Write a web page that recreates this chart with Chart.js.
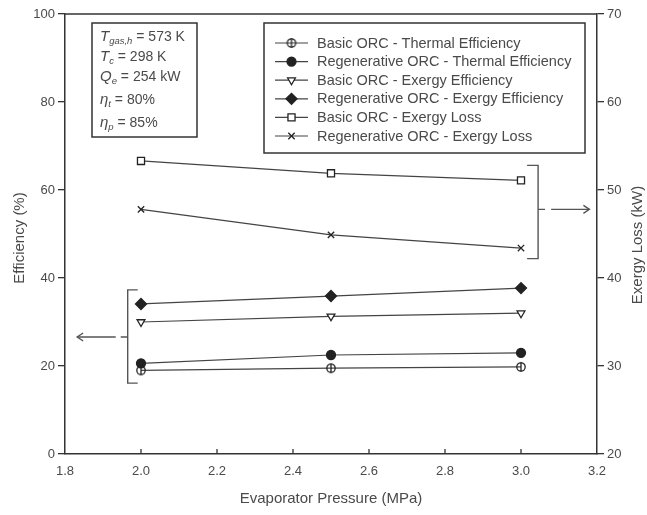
<!DOCTYPE html>
<html>
<head>
<meta charset="utf-8">
<script src="https://cdn.jsdelivr.net/npm/chart.js@4.4.1/dist/chart.umd.min.js"></script>
<style>
  html, body { margin: 0; padding: 0; background: #fff; }
  #wrap { width: 647px; height: 515px; }
</style>
</head>
<body>
<div id="wrap"><canvas id="orc" width="647" height="515"></canvas></div>
<script>
// evaporator pressure (MPa)
const pressures = [2.0, 2.5, 3.0];

// efficiencies (%) - left axis
const basicThermal = [19.0, 19.5, 19.8];
const regenThermal = [20.6, 22.5, 23.0];
const basicExergyEff = [30.0, 31.3, 32.0];
const regenExergyEff = [34.1, 35.9, 37.7];

// exergy loss (kW) - right axis
const basicExergyLoss = [53.3, 51.9, 51.1];
const regenExergyLoss = [47.8, 44.9, 43.4];

const seriesNames = [
  'Basic ORC - Thermal Efficiency',
  'Regenerative ORC - Thermal Efficiency',
  'Basic ORC - Exergy Efficiency',
  'Regenerative ORC - Exergy Efficiency',
  'Basic ORC - Exergy Loss',
  'Regenerative ORC - Exergy Loss'
];

const xTicks = [1.8, 2.0, 2.2, 2.4, 2.6, 2.8, 3.0, 3.2];
const effTicks = [0, 20, 40, 60, 80, 100];
const lossTicks = [20, 30, 40, 50, 60, 70];

// operating conditions shown in the small box
const conditions = [
  { sym: 'T', sub: 'gas,h', text: ' = 573 K' },
  { sym: 'T', sub: 'c', text: ' = 298 K' },
  { sym: 'Q', sub: 'e', text: ' = 254 kW' },
  { sym: 'η', sub: 't', text: ' = 80%' },
  { sym: 'η', sub: 'p', text: ' = 85%' }
];

const FONT = '"Liberation Sans", Arial, Helvetica, sans-serif';
const INK = '#222';
const LINE = '#444';
const TEXT = '#4a4a4a';

// open circle with a vertical bar
function circleBar() {
  const c = document.createElement('canvas');
  c.width = 12; c.height = 12;
  const g = c.getContext('2d');
  g.strokeStyle = INK;
  g.lineWidth = 1.3;
  g.beginPath();
  g.arc(6, 6, 4.2, 0, Math.PI * 2);
  g.stroke();
  g.beginPath();
  g.moveTo(6, 1.2);
  g.lineTo(6, 10.8);
  g.stroke();
  return c;
}

const pts = vals => pressures.map((p, i) => ({ x: p, y: vals[i] }));

function series(i, vals, axis, style) {
  return Object.assign({
    label: seriesNames[i],
    data: pts(vals),
    yAxisID: axis,
    borderColor: LINE,
    borderWidth: 1.2,
    pointBorderColor: INK,
    pointBorderWidth: 1.3,
    pointRadius: 4.5,
    pointHoverRadius: 4.5,
    tension: 0,
    fill: false
  }, style);
}

const datasets = [
  series(0, basicThermal, 'y', { pointStyle: circleBar(), pointBackgroundColor: INK }),
  series(1, regenThermal, 'y', { pointStyle: 'circle', pointBackgroundColor: INK, pointRadius: 4.5 }),
  series(2, basicExergyEff, 'y', { pointStyle: 'triangle', rotation: 180, pointBackgroundColor: '#fff', pointRadius: 4.5 }),
  series(3, regenExergyEff, 'y', { pointStyle: 'rectRot', pointBackgroundColor: INK, pointRadius: 5.5 }),
  series(4, basicExergyLoss, 'y1', { pointStyle: 'rect', pointBackgroundColor: '#fff', pointRadius: 5 }),
  series(5, regenExergyLoss, 'y1', { pointStyle: 'crossRot', pointBackgroundColor: INK, pointRadius: 4.5 })
];

function drawRuns(ctx, x, y, runs) {
  runs.forEach(r => {
    ctx.font = r.font;
    ctx.fillText(r.t, x, y + (r.dy || 0));
    x += ctx.measureText(r.t).width;
  });
}

const decorations = {
  id: 'decorations',
  afterDraw(chart) {
    const ctx = chart.ctx;
    const a = chart.chartArea;
    const xs = chart.scales.x, yl = chart.scales.y, yr = chart.scales.y1;
    ctx.save();

    // top frame line and inward x ticks
    ctx.strokeStyle = '#333';
    ctx.lineWidth = 1.5;
    ctx.beginPath();
    ctx.moveTo(a.left, a.top);
    ctx.lineTo(a.right, a.top);
    ctx.stroke();
    ctx.lineWidth = 1.3;
    xTicks.slice(1, -1).forEach(v => {
      const px = xs.getPixelForValue(v);
      ctx.beginPath();
      ctx.moveTo(px, a.bottom);
      ctx.lineTo(px, a.bottom - 5);
      ctx.stroke();
    });

    // axis titles
    ctx.fillStyle = TEXT;
    ctx.textAlign = 'center';
    ctx.textBaseline = 'middle';
    ctx.font = '15px ' + FONT;
    ctx.fillText('Evaporator Pressure (MPa)', (a.left + a.right) / 2, 499);
    ctx.save();
    ctx.translate(20, 238);
    ctx.rotate(-Math.PI / 2);
    ctx.fillText('Efficiency (%)', 0, 0);
    ctx.restore();
    ctx.save();
    ctx.translate(638, 245);
    ctx.rotate(-Math.PI / 2);
    ctx.fillText('Exergy Loss (kW)', 0, 0);
    ctx.restore();

    // conditions box
    ctx.strokeStyle = '#333';
    ctx.lineWidth = 1.5;
    ctx.strokeRect(92, 23, 105, 114);
    ctx.textAlign = 'left';
    ctx.textBaseline = 'alphabetic';
    const baselines = [41, 61, 81, 104, 127];
    conditions.forEach((c, i) => {
      drawRuns(ctx, 100, baselines[i], [
        { t: c.sym, font: 'italic 15px ' + FONT },
        { t: c.sub, font: 'italic 9.5px ' + FONT, dy: 3 },
        { t: c.text, font: '14px ' + FONT }
      ]);
    });

    // legend box
    ctx.strokeRect(264, 23, 321, 130);
    chart.data.datasets.forEach((ds, i) => {
      const y = 43 + i * 18.6;
      ctx.strokeStyle = ds.borderColor;
      ctx.lineWidth = ds.borderWidth;
      ctx.beginPath();
      ctx.moveTo(275, y);
      ctx.lineTo(308, y);
      ctx.stroke();
      ctx.fillStyle = ds.pointBackgroundColor;
      ctx.strokeStyle = ds.pointBorderColor;
      ctx.lineWidth = ds.pointBorderWidth;
      Chart.helpers.drawPoint(ctx, {
        pointStyle: ds.pointStyle,
        radius: ds.pointRadius,
        rotation: ds.rotation || 0,
        borderWidth: ds.pointBorderWidth
      }, 291.5, y);
      ctx.fillStyle = TEXT;
      ctx.font = '14.5px ' + FONT;
      ctx.textBaseline = 'middle';
      ctx.fillText(ds.label, 317, y + 0.5);
    });

    // brackets pointing to each axis
    ctx.strokeStyle = '#555';
    ctx.lineWidth = 1.4;
    const bx = xs.getPixelForValue(1.965);
    const bt = yl.getPixelForValue(37.3), bb = yl.getPixelForValue(16.1);
    const by = yl.getPixelForValue(26.6);
    ctx.beginPath();
    ctx.moveTo(bx + 10, bt); ctx.lineTo(bx, bt); ctx.lineTo(bx, bb); ctx.lineTo(bx + 10, bb);
    ctx.stroke();
    ctx.beginPath();
    ctx.moveTo(bx, by); ctx.lineTo(bx - 7, by);
    ctx.moveTo(bx - 12, by); ctx.lineTo(xs.getPixelForValue(1.832), by);
    ctx.stroke();
    const lx = xs.getPixelForValue(1.832);
    ctx.beginPath();
    ctx.moveTo(lx + 6, by - 4); ctx.lineTo(lx, by); ctx.lineTo(lx + 6, by + 4);
    ctx.stroke();

    const rx = xs.getPixelForValue(3.045);
    const rt = yr.getPixelForValue(52.8), rb = yr.getPixelForValue(42.2);
    const ry = yr.getPixelForValue(47.8);
    ctx.beginPath();
    ctx.moveTo(rx - 11, rt); ctx.lineTo(rx, rt); ctx.lineTo(rx, rb); ctx.lineTo(rx - 11, rb);
    ctx.stroke();
    const ax = xs.getPixelForValue(3.18);
    ctx.beginPath();
    ctx.moveTo(rx, ry); ctx.lineTo(rx + 7, ry);
    ctx.moveTo(rx + 13, ry); ctx.lineTo(ax, ry);
    ctx.stroke();
    ctx.beginPath();
    ctx.moveTo(ax - 6, ry - 4); ctx.lineTo(ax, ry); ctx.lineTo(ax - 6, ry + 4);
    ctx.stroke();

    ctx.restore();
  }
};

const tickFont = { family: FONT, size: 13 };

new Chart(document.getElementById('orc'), {
  type: 'line',
  data: { datasets },
  options: {
    responsive: false,
    animation: false,
    layout: { padding: { top: 14, left: 0, right: 0, bottom: 0 } },
    plugins: { legend: { display: false }, tooltip: { enabled: false } },
    scales: {
      x: {
        type: 'linear',
        min: 1.8, max: 3.2,
        afterBuildTicks: s => { s.ticks = xTicks.map(v => ({ value: v })); },
        ticks: { color: TEXT, font: tickFont, padding: 2, maxRotation: 0, callback: v => v.toFixed(1) },
        grid: { display: false },
        border: { color: '#333', width: 1.5 },
        afterFit: s => { s.height = 61; }
      },
      y: {
        position: 'left',
        min: 0, max: 100,
        afterBuildTicks: s => { s.ticks = effTicks.map(v => ({ value: v })); },
        ticks: { color: TEXT, font: tickFont, padding: 3 },
        grid: { drawOnChartArea: false, drawTicks: true, tickLength: 7, color: '#333', lineWidth: 1.3 },
        border: { color: '#333', width: 1.5 },
        afterFit: s => { s.width = 65; }
      },
      y1: {
        position: 'right',
        min: 20, max: 70,
        afterBuildTicks: s => { s.ticks = lossTicks.map(v => ({ value: v })); },
        ticks: { color: TEXT, font: tickFont, padding: 3 },
        grid: { drawOnChartArea: false, drawTicks: true, tickLength: 7, color: '#333', lineWidth: 1.3 },
        border: { color: '#333', width: 1.5 },
        afterFit: s => { s.width = 50; }
      }
    }
  },
  plugins: [decorations]
});
</script>
</body>
</html>
